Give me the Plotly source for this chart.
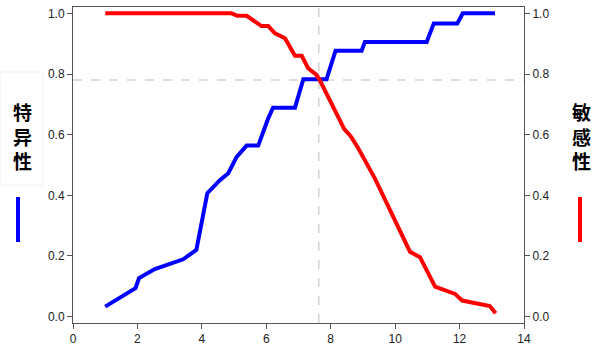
import plotly.graph_objects as go

# Specificity (blue)
spec_x = [1.0, 1.94, 2.05, 2.54, 3.42, 3.83, 4.17, 4.56, 4.82, 5.08, 5.39, 5.75, 6.06, 6.21, 6.89, 7.15, 7.87,
          8.03, 8.15, 8.96, 9.06, 10.98, 11.13, 11.2, 11.93, 12.1, 13.1]
spec_y = [0.033, 0.094, 0.127, 0.157, 0.189, 0.22, 0.407, 0.45, 0.473, 0.527, 0.564, 0.564, 0.654, 0.689, 0.689,
          0.783, 0.783, 0.84, 0.877, 0.877, 0.906, 0.906, 0.945, 0.967, 0.967, 1.0, 1.0]

# Sensitivity (red)
sens_x = [1.0, 4.92, 5.1, 5.39, 5.85, 6.06, 6.27, 6.58, 6.89, 7.1, 7.3, 7.56, 7.66, 8.42, 8.62, 8.85, 9.37,
          10.46, 10.77, 11.24, 11.86, 12.08, 12.94, 13.12]
sens_y = [1.0, 1.0, 0.992, 0.992, 0.958, 0.958, 0.934, 0.918, 0.86, 0.86, 0.819, 0.797, 0.78, 0.618, 0.595, 0.556, 0.456,
          0.214, 0.196, 0.099, 0.075, 0.053, 0.035, 0.011]

cut_x = 7.63
cut_y = 0.78

x_ticks = [0, 2, 4, 6, 8, 10, 12, 14]
y_ticks = [0.0, 0.2, 0.4, 0.6, 0.8, 1.0]
y_ticklabels = ["0.0", "0.2", "0.4", "0.6", "0.8", "1.0"]

left_label = "特异性"
right_label = "敏感性"

fig = go.Figure()
fig.add_trace(go.Scatter(x=spec_x, y=spec_y, mode="lines",
                         line=dict(color="#0000ff", width=4), showlegend=False))
fig.add_trace(go.Scatter(x=sens_x, y=sens_y, mode="lines", yaxis="y2",
                         line=dict(color="#ff0000", width=4), showlegend=False))

yr = [-0.021, 1.021]
axis_common = dict(showline=True, linecolor="#555555", linewidth=1, ticks="outside", ticklen=5,
                   tickcolor="#555555", showgrid=False, zeroline=False,
                   tickfont=dict(family="Liberation Sans, Arial", size=12, color="#222222"))

fig.update_layout(
    width=600, height=355,
    margin=dict(l=73, r=76, t=7, b=32),
    paper_bgcolor="white", plot_bgcolor="white",
    xaxis=dict(range=[0, 14], tickvals=x_ticks, mirror=True, **axis_common),
    yaxis=dict(range=yr, tickvals=y_ticks, ticktext=y_ticklabels, **axis_common),
    yaxis2=dict(range=yr, tickvals=y_ticks, ticktext=y_ticklabels, overlaying="y", side="right", **axis_common),
)

# dashed reference lines
fig.add_shape(type="line", xref="x", yref="paper", x0=cut_x, x1=cut_x, y0=0, y1=1,
              line=dict(color="#d3d3d3", width=1.5, dash="dash"), layer="below")
fig.add_shape(type="line", xref="paper", yref="y", x0=0, x1=1, y0=cut_y, y1=cut_y,
              line=dict(color="#d3d3d3", width=1.5, dash="dash"), layer="below")

def px_x(px):
    return (px - 73) / 451

def px_y(py):
    return (323 - py) / 316

# faint box on left
fig.add_shape(type="rect", xref="paper", yref="paper",
              x0=px_x(0), x1=px_x(43), y0=px_y(185), y1=px_y(72),
              line=dict(color="#f2f2f2", width=1), fillcolor="rgba(0,0,0,0)")

cjk = dict(family="Noto Sans CJK SC", size=19, color="black")
fig.add_annotation(text="<b>" + "<br>".join(left_label) + "</b>", xref="paper", yref="paper",
                   x=px_x(22), y=px_y(136), showarrow=False, font=cjk,
                   xanchor="center", yanchor="middle", borderpad=0)
fig.add_annotation(text="<b>" + "<br>".join(right_label) + "</b>", xref="paper", yref="paper",
                   x=px_x(581), y=px_y(136), showarrow=False, font=cjk,
                   xanchor="center", yanchor="middle", borderpad=0)

# legend-like short lines
fig.add_shape(type="line", xref="paper", yref="paper", x0=px_x(18), x1=px_x(18), y0=px_y(197), y1=px_y(242),
              line=dict(color="#0000ff", width=4))
fig.add_shape(type="line", xref="paper", yref="paper", x0=px_x(580), x1=px_x(580), y0=px_y(197), y1=px_y(242),
              line=dict(color="#ff0000", width=4))

fig.write_html("out.html")
